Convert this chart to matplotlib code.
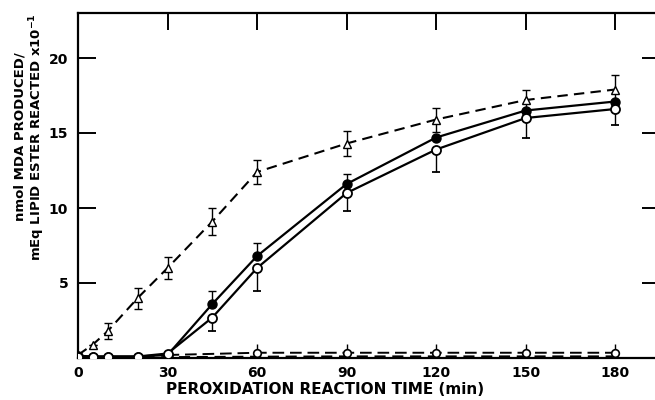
import matplotlib
matplotlib.use("Agg")
import matplotlib.pyplot as plt

# ---- data ----
t_all = [0, 5, 10, 20, 30, 45, 60, 90, 120, 150, 180]
tri_vals = [0.2, 0.9, 1.8, 4.0, 6.0, 9.1, 12.4, 14.3, 15.9, 17.2, 17.9]
tri_err = [0, 0, 0.55, 0.7, 0.75, 0.9, 0.8, 0.85, 0.8, 0.7, 1.0]

filled_vals = [0.15, 0.1, 0.1, 0.1, 0.2, 3.6, 6.8, 11.6, 14.7, 16.5, 17.1]
filled_err_up = [0, 0, 0, 0, 0, 0.9, 0.9, 0.7, 0, 0, 0]

open_vals = [0.1, 0.1, 0.1, 0.1, 0.3, 2.7, 6.0, 11.0, 13.9, 16.0, 16.6]
open_err_down = [0, 0, 0, 0, 0, 0.9, 1.5, 1.2, 1.5, 1.3, 1.1]

t_low = [30, 60, 90, 120, 150, 180]
low_vals = [0.2, 0.35, 0.35, 0.35, 0.35, 0.35]
low_err_up = [0, 0.6, 0.6, 0.6, 0.6, 0.6]

t_base = [10, 30, 60, 90, 120, 150, 180]
base_vals = [0.05, 0.05, 0.08, 0.1, 0.1, 0.1, 0.1]

x_ticks = [0, 30, 60, 90, 120, 150, 180]
y_ticks = [5, 10, 15, 20]

W, H = 655, 400
fig = plt.figure(figsize=(W / 100, H / 100), dpi=100)
ax_left, ax_right, ax_top, ax_bottom = 78, 660, 13, 358
ax = fig.add_axes([ax_left / W, 1 - ax_bottom / H,
                   (ax_right - ax_left) / W, (ax_bottom - ax_top) / H])
ax.set_xlim(0, 195)
ax.set_ylim(0, 23)

font = dict(family="DejaVu Sans", weight="bold")
k = "black"

# baseline dashed series
ax.plot(t_base, base_vals, color=k, lw=1.6, ls=(0, (5, 3)), zorder=2)
# low open-circle dashed series
ax.errorbar(t_low, low_vals, yerr=[[0] * len(low_err_up), low_err_up],
            color=k, lw=1.4, ls=(0, (6, 3)), marker="o", ms=5.5, mfc="white",
            mec=k, mew=1.2, capsize=0, elinewidth=1.0, zorder=3)
# triangle dashed series
ax.errorbar(t_all, tri_vals, yerr=tri_err, color=k, lw=1.5, ls=(0, (5, 3)),
            marker="^", ms=6, mfc="white", mec=k, mew=1.0, capsize=3,
            elinewidth=1.0, capthick=1.0, zorder=4)
# filled circle solid series
ax.errorbar(t_all, filled_vals, yerr=[[0] * len(filled_err_up), filled_err_up],
            color=k, lw=1.6, marker="o", ms=6.5, mfc=k, mec=k, capsize=3,
            elinewidth=1.0, capthick=1.0, zorder=5)
# open circle solid series
ax.errorbar(t_all, open_vals, yerr=[open_err_down, [0] * len(open_err_down)],
            color=k, lw=1.6, marker="o", ms=6.5, mfc="white", mec=k, mew=1.3,
            capsize=3, elinewidth=1.0, capthick=1.0, zorder=5)

for s in ax.spines.values():
    s.set_linewidth(1.6)

ax.set_xticks(x_ticks)
ax.set_xticklabels([str(v) for v in x_ticks], fontsize=10, **font)
ax.set_yticks(y_ticks)
ax.set_yticklabels([str(v) for v in y_ticks], fontsize=10, **font)
ax.tick_params(axis="x", direction="in", length=12, width=1.4, top=True,
               bottom=False, labelbottom=True, pad=6)
ax.tick_params(axis="y", direction="in", length=13, width=1.4, right=True,
               left=True, pad=7)

fig.text(325 / W, 1 - 389 / H, "PEROXIDATION REACTION TIME (min)",
         ha="center", va="center", fontsize=11, **font)
fig.text(20 / W, 1 - 137 / H, "nmol MDA PRODUCED/", rotation=90,
         ha="center", va="center", fontsize=9.5, **font)
fig.text(37 / W, 1 - 137 / H, r"mEq LIPID ESTER REACTED x10$^{\mathbf{-1}}$",
         rotation=90, ha="center", va="center", fontsize=9.5, **font)

fig.savefig("out.png", dpi=100)
